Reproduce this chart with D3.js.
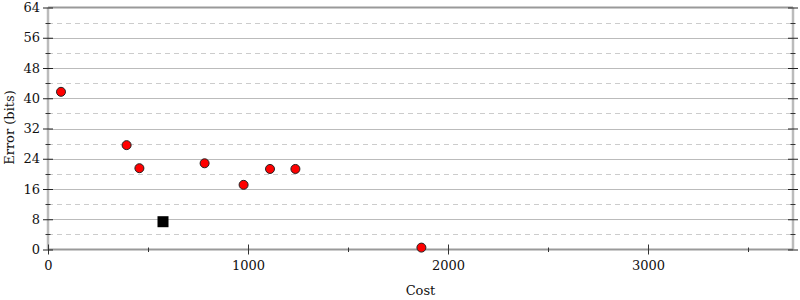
<!DOCTYPE html>
<html>
<head>
<meta charset="utf-8">
<script src="https://cdn.jsdelivr.net/npm/d3@7"></script>
<style>
  body { margin: 0; background: #fff; }
  svg text { font-family: "DejaVu Serif", serif; }
</style>
</head>
<body>
<div id="chart"></div>
<script>
// data
var pointCost  = [65, 393, 457, 783, 978, 1110, 1237, 1867];
var pointError = [41.7, 27.6, 21.5, 22.8, 17.1, 21.3, 21.3, 0.5];
var startCost  = [575];
var startError = [7.35];
var xMajor = [0, 1000, 2000, 3000];
var xMinor = [500, 1500, 2500, 3500];
var yMajor = [0, 8, 16, 24, 32, 40, 48, 56, 64];
var yMinor = [4, 12, 20, 28, 36, 44, 52, 60];

var width = 800, height = 300;
var margin = { top: 7.5, bottom: 50.5, left: 48, right: 7 };

var svg = d3.select("#chart").append("svg")
    .attr("width", width)
    .attr("height", height);

var x = d3.scaleLinear().domain([0, 3725]).range([margin.left, width - margin.right]);
var y = d3.scaleLinear().domain([0, 64]).range([height - margin.bottom, margin.top]);

// grid
svg.append("g").selectAll("line")
  .data(yMajor.slice(1, -1))
  .enter().append("line")
    .attr("x1", x(0)).attr("x2", x(3725))
    .attr("y1", function(d) { return Math.round(y(d)) + 0.5; })
    .attr("y2", function(d) { return Math.round(y(d)) + 0.5; })
    .attr("stroke", "#bbb");

svg.append("g").selectAll("line")
  .data(yMinor)
  .enter().append("line")
    .attr("x1", x(0)).attr("x2", x(3725))
    .attr("y1", function(d) { return Math.round(y(d)) + 0.5; })
    .attr("y2", function(d) { return Math.round(y(d)) + 0.5; })
    .attr("stroke", "#ccc")
    .attr("stroke-dasharray", "5,4");

// frame
svg.append("line")
    .attr("x1", x(0)).attr("x2", x(3725))
    .attr("y1", y(64)).attr("y2", y(64))
    .attr("stroke", "#999").attr("stroke-width", 2);
svg.append("line")
    .attr("x1", x(0)).attr("x2", x(0))
    .attr("y1", y(0)).attr("y2", y(64))
    .attr("stroke", "#bbb").attr("stroke-width", 2.5);
svg.append("line")
    .attr("x1", x(3725)).attr("x2", x(3725))
    .attr("y1", y(0)).attr("y2", y(64))
    .attr("stroke", "#bbb").attr("stroke-width", 2.5);
svg.append("line")
    .attr("x1", x(0)).attr("x2", x(3725))
    .attr("y1", y(0)).attr("y2", y(0))
    .attr("stroke", "#999").attr("stroke-width", 2);

// x axis
var xAxis = svg.append("g")
    .attr("transform", "translate(0," + y(0) + ")")
    .call(d3.axisBottom(x).tickValues(xMajor).tickFormat(d3.format("d")).tickSize(5).tickPadding(6));
xAxis.attr("font-family", null).attr("font-size", 13);
xAxis.select(".domain").remove();
xAxis.selectAll(".tick line").attr("y1", -5).attr("stroke", "#333");
xAxis.selectAll("text").attr("fill", "#111");

svg.append("g").selectAll("line")
  .data(xMinor)
  .enter().append("line")
    .attr("x1", function(d) { return Math.round(x(d)) + 0.5; })
    .attr("x2", function(d) { return Math.round(x(d)) + 0.5; })
    .attr("y1", y(0) - 2).attr("y2", y(0) + 2.5)
    .attr("stroke", "#333");

// y axis
var yAxis = svg.append("g")
    .attr("transform", "translate(" + x(0) + ",0)")
    .call(d3.axisLeft(y).tickValues(yMajor).tickSize(5).tickPadding(3));
yAxis.attr("font-family", null).attr("font-size", 13);
yAxis.select(".domain").remove();
yAxis.selectAll(".tick line").attr("x1", 5).attr("stroke", "#222");
yAxis.selectAll("text").attr("fill", "#111");

svg.append("g").selectAll("line")
  .data(yMinor)
  .enter().append("line")
    .attr("x1", x(0) - 2.5).attr("x2", x(0) + 2.5)
    .attr("y1", function(d) { return Math.round(y(d)) + 0.5; })
    .attr("y2", function(d) { return Math.round(y(d)) + 0.5; })
    .attr("stroke", "#333");

// right side ticks
var yRight = svg.append("g")
    .attr("transform", "translate(" + x(3725) + ",0)")
    .call(d3.axisRight(y).tickValues(yMajor).tickSize(5).tickFormat(""));
yRight.select(".domain").remove();
yRight.selectAll(".tick line").attr("x1", -5).attr("stroke", "#222");

svg.append("g").selectAll("line")
  .data(yMinor)
  .enter().append("line")
    .attr("x1", x(3725) - 2.5).attr("x2", x(3725) + 2.5)
    .attr("y1", function(d) { return Math.round(y(d)) + 0.5; })
    .attr("y2", function(d) { return Math.round(y(d)) + 0.5; })
    .attr("stroke", "#333");

// labels
svg.append("text")
    .attr("x", (x(0) + x(3725)) / 2)
    .attr("y", 295)
    .attr("text-anchor", "middle")
    .attr("font-size", 13)
    .attr("fill", "#111")
    .text("Cost");

svg.append("text")
    .attr("transform", "translate(14," + (y(32) - 1) + ") rotate(-90)")
    .attr("text-anchor", "middle")
    .attr("font-size", 13)
    .attr("fill", "#111")
    .text("Error (bits)");

// points
svg.append("g").selectAll("circle")
  .data(pointCost)
  .enter().append("circle")
    .attr("cx", function(d) { return x(d); })
    .attr("cy", function(d, i) { return y(pointError[i]); })
    .attr("r", 4.5)
    .attr("fill", "red")
    .attr("stroke", "#222")
    .attr("stroke-width", 1);

svg.append("g").selectAll("rect")
  .data(startCost)
  .enter().append("rect")
    .attr("x", function(d) { return x(d) - 5.5; })
    .attr("y", function(d, i) { return y(startError[i]) - 5.5; })
    .attr("width", 11)
    .attr("height", 11)
    .attr("fill", "black");
</script>
</body>
</html>
